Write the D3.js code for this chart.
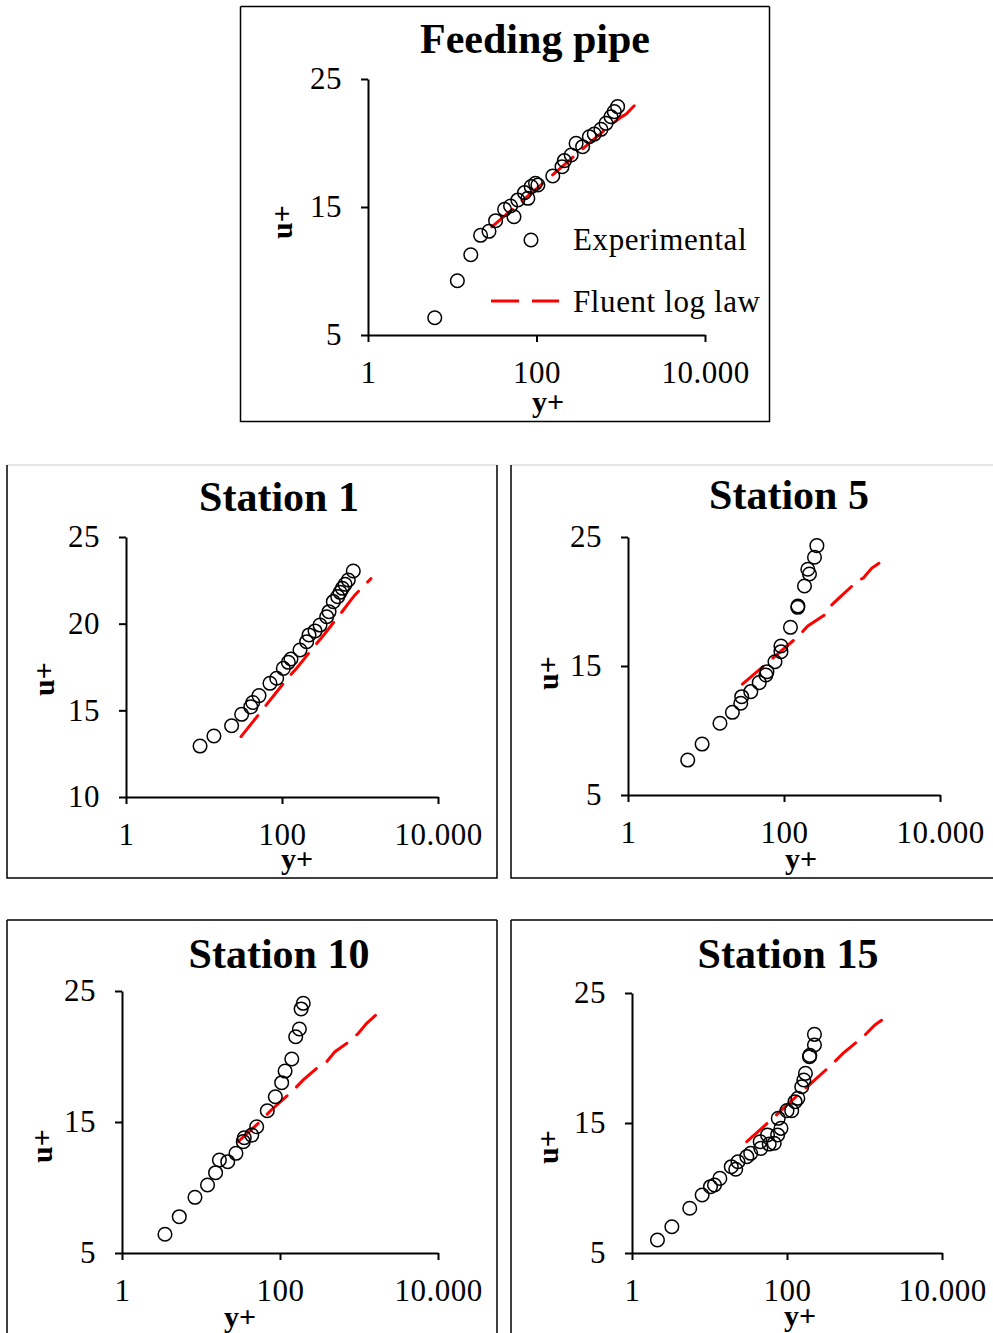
<!DOCTYPE html>
<html><head><meta charset="utf-8">
<script src="https://cdn.jsdelivr.net/npm/d3@7"></script>
<style>
body{margin:0;background:#fff}
svg{display:block}
text{font-family:"Liberation Serif","Times New Roman",serif;fill:#000}
</style>
</head><body><svg id="c" width="993" height="1333"></svg>
<script>
// ---------- DATA ----------
const xTickValues = [1, 100, 10000];
const xTickLabels = ["1", "100", "10.000"];
const yTicksA = [5, 15, 25];
const yTicksB = [10, 15, 20, 25];
const legendLabels = ["Experimental", "Fluent log law"];
const panelTitles = ["Feeding pipe", "Station 1", "Station 5", "Station 10", "Station 15"];

// Feeding pipe
const feedYp = [6.2, 11.5, 16.6, 21.7, 27.3, 32.7, 41.8, 54.0, 49.2, 60.1, 72.1, 78.9, 86.5, 97.3, 103.8, 156, 201, 214, 258, 295, 353, 424, 485, 582, 668, 766, 838, 918];
const feedUp = [6.35, 9.24, 11.27, 12.79, 13.1, 13.93, 14.82, 14.24, 15.08, 15.55, 16.12, 15.68, 16.59, 16.85, 16.72, 17.42, 18.15, 18.62, 19.06, 19.97, 19.71, 20.49, 20.70, 21.07, 21.54, 22.05, 22.45, 22.84];
const feedLawYp = [29.5, 63, 126, 251, 501, 794, 1000, 1180, 1300, 1514];
const feedLawUp = [13.45, 15.3, 17.0, 18.7, 20.4, 21.5, 22.0, 22.3, 22.6, 23.05];

// Station 1
const st1Yp = [8.9, 13.4, 22.6, 30.4, 39.8, 42.2, 50.7, 70.1, 85.5, 104, 120.5, 130.3, 170, 207, 222, 265, 307, 374, 401, 455, 518, 555, 593, 643, 708, 820];
const st1Up = [12.94, 13.52, 14.11, 14.77, 15.2, 15.45, 15.85, 16.56, 16.85, 17.42, 17.77, 17.96, 18.48, 18.96, 19.35, 19.58, 19.92, 20.40, 20.69, 21.27, 21.56, 21.81, 22.04, 22.27, 22.52, 23.04];
const st1LawYp = [29.8, 115, 154, 265, 349, 582, 767, 863, 1380];
const st1LawUp = [13.48, 16.79, 17.43, 18.74, 19.39, 20.66, 21.37, 21.66, 22.6];

// Station 5
const st5Yp = [5.83, 8.91, 15.1, 21.8, 27.9, 28.7, 37.5, 48.1, 60.4, 58.6, 76.6, 91.4, 91.4, 121, 150, 151, 183, 212, 202, 246, 264];
const st5Up = [7.71, 8.95, 10.56, 11.41, 12.11, 12.62, 13.01, 13.71, 14.56, 14.3, 15.33, 16.11, 16.55, 18.0, 19.55, 19.65, 21.2, 22.13, 22.5, 23.43, 24.33];
const st5LawYp = [29.3, 78.9, 150, 202, 331, 396, 543, 769, 849, 1035, 1327, 1648];
const st5LawUp = [13.6, 15.82, 17.27, 18.1, 18.95, 19.65, 20.43, 21.28, 21.61, 21.8, 22.57, 22.96];

// Station 10
const st10Yp = [3.50, 5.31, 8.39, 12.1, 15.3, 17.1, 21.8, 27.7, 34.3, 35.3, 43.9, 50.7, 69.0, 87.3, 105, 116, 141, 158, 176, 185, 197];
const st10Up = [6.43, 7.77, 9.25, 10.19, 11.13, 12.1, 11.97, 12.61, 13.5, 13.8, 14.0, 14.64, 15.86, 16.93, 18.0, 18.89, 19.81, 21.51, 22.1, 23.63, 24.06];
const st10LawYp = [29.6, 55.8, 76.9, 148, 197, 292, 390, 497, 698, 982, 1250, 1641];
const st10LawUp = [13.5, 15.02, 15.9, 17.44, 18.21, 19.1, 19.6, 20.37, 21.0, 21.77, 22.53, 23.17];

// Station 15
const st15Yp = [2.13, 3.27, 5.56, 8.04, 10.3, 11.6, 13.6, 19.1, 21.8, 23.3, 30.3, 34.0, 45.9, 45.1, 56.1, 58.9, 68.4, 75.7, 83.6, 77.1, 100, 115, 127, 138, 155, 165, 173, 195, 197, 226, 226];
const st15Up = [6.0, 7.02, 8.44, 9.46, 10.1, 10.23, 10.74, 11.64, 11.44, 12.02, 12.41, 12.67, 13.05, 13.56, 14.08, 13.38, 13.44, 14.08, 14.59, 15.36, 15.95, 15.95, 16.64, 16.9, 17.79, 18.31, 18.82, 20.1, 20.2, 21.0, 21.82];
const st15LawYp = [30.3, 58.9, 100, 216, 393, 528, 962, 1361, 1660];
const st15LawUp = [13.56, 15.1, 16.4, 18.18, 19.59, 20.36, 21.64, 22.54, 22.9];

// ---------- LAYOUT ----------
const panels = [
  {title: panelTitles[0], xp: feedYp, up: feedUp, lx: feedLawYp, lu: feedLawUp,
   xr: [368, 705], yr: [335, 79], yd: [5, 25], yt: yTicksA,
   box: [240.5, 6.5, 529, 415], boxTop: "#000",
   tx: 535, ty: 53, ux: 292, uy: 222, yx: 548, yy: 412, legend: true},
  {title: panelTitles[1], xp: st1Yp, up: st1Up, lx: st1LawYp, lu: st1LawUp,
   xr: [126, 438], yr: [797, 537], yd: [10, 25], yt: yTicksB,
   box: [7, 465, 490, 413], boxTop: "#ddd",
   tx: 279, ty: 511, ux: 54, uy: 679, yx: 297, yy: 869},
  {title: panelTitles[2], xp: st5Yp, up: st5Up, lx: st5LawYp, lu: st5LawUp,
   xr: [628, 940], yr: [795, 537], yd: [5, 25], yt: yTicksA,
   box: [511, 465, 500, 413], boxTop: "#ddd",
   tx: 789, ty: 509, ux: 558, uy: 673, yx: 801, yy: 869},
  {title: panelTitles[3], xp: st10Yp, up: st10Up, lx: st10LawYp, lu: st10LawUp,
   xr: [122, 438], yr: [1253, 991], yd: [5, 25], yt: yTicksA,
   box: [7, 920, 490, 430], boxTop: "#000",
   tx: 279, ty: 968, ux: 52, uy: 1146, yx: 240, yy: 1327},
  {title: panelTitles[4], xp: st15Yp, up: st15Up, lx: st15LawYp, lu: st15LawUp,
   xr: [632, 942], yr: [1253, 993], yd: [5, 25], yt: yTicksA,
   box: [511, 920, 500, 430], boxTop: "#000",
   tx: 788, ty: 968, ux: 558, uy: 1147, yx: 800, yy: 1326}
];

const svg = d3.select("#c");
svg.append("rect").attr("width", 993).attr("height", 1333).attr("fill", "#fff");

panels.forEach(p => {
  const g = svg.append("g");
  const [bx, by, bw, bh] = p.box;
  g.append("line").attr("x1", bx).attr("y1", by).attr("x2", bx + bw).attr("y2", by).attr("stroke", p.boxTop).attr("stroke-width", 1.5);
  g.append("path").attr("d", `M${bx},${by}V${by + bh}H${bx + bw}V${by}`).attr("fill", "none").attr("stroke", "#000").attr("stroke-width", 1.5);

  const x = d3.scaleLog().domain([1, 10000]).range(p.xr);
  const y = d3.scaleLinear().domain(p.yd).range(p.yr);

  const xa = g.append("g").attr("transform", `translate(0,${p.yr[0]})`)
    .call(d3.axisBottom(x).tickValues(xTickValues).tickFormat((d, i) => xTickLabels[i]).tickSize(7).tickSizeOuter(0).tickPadding(19));
  const ya = g.append("g").attr("transform", `translate(${p.xr[0]},0)`)
    .call(d3.axisLeft(y).tickValues(p.yt).tickSize(7).tickSizeOuter(0).tickPadding(19));
  [xa, ya].forEach(a => {
    a.selectAll("path.domain").attr("stroke", "#000").attr("stroke-width", 2);
    a.selectAll(".tick line").attr("stroke", "#000").attr("stroke-width", 2);
    a.selectAll(".tick text").style("font-family", '"Liberation Serif","Times New Roman",serif')
      .style("font-size", "31px").style("letter-spacing", "0.5px").attr("fill", "#000");
  });

  const lawPts = p.lx.map((v, i) => [v, p.lu[i]]);
  g.append("path").datum(lawPts)
    .attr("d", d3.line().x(d => x(d[0])).y(d => y(d[1])))
    .attr("fill", "none").attr("stroke", "#ff0000").attr("stroke-width", 3)
    .attr("stroke-dasharray", "27,13").attr("stroke-linecap", "round");

  const pts = p.xp.map((v, i) => [v, p.up[i]]);
  g.selectAll("circle.pt").data(pts).enter().append("circle")
    .attr("cx", d => x(d[0])).attr("cy", d => y(d[1])).attr("r", 6.8)
    .attr("fill", "none").attr("stroke", "#000").attr("stroke-width", 1.5);

  g.append("text").attr("x", p.tx).attr("y", p.ty).attr("text-anchor", "middle")
    .style("font-size", "42px").style("font-weight", "bold").text(p.title);
  g.append("text").attr("transform", `translate(${p.ux},${p.uy}) rotate(-90)`).attr("text-anchor", "middle")
    .style("font-size", "30px").style("font-weight", "bold").text("u+");
  g.append("text").attr("x", p.yx).attr("y", p.yy).attr("text-anchor", "middle")
    .style("font-size", "30px").style("font-weight", "bold").text("y+");

  if (p.legend) {
    const lg = g.append("g");
    lg.append("circle").attr("cx", 531).attr("cy", 240).attr("r", 6.8)
      .attr("fill", "none").attr("stroke", "#000").attr("stroke-width", 1.5);
    lg.append("text").attr("x", 573).attr("y", 250).style("font-size", "31px").style("letter-spacing", "0.6px").text(legendLabels[0]);
    lg.append("line").attr("x1", 491).attr("y1", 301).attr("x2", 559).attr("y2", 301)
      .attr("stroke", "#ff0000").attr("stroke-width", 3).attr("stroke-dasharray", "28,13");
    lg.append("text").attr("x", 573).attr("y", 312).style("font-size", "31px").style("letter-spacing", "0.6px").text(legendLabels[1]);
  }
});
</script>
</body></html>
